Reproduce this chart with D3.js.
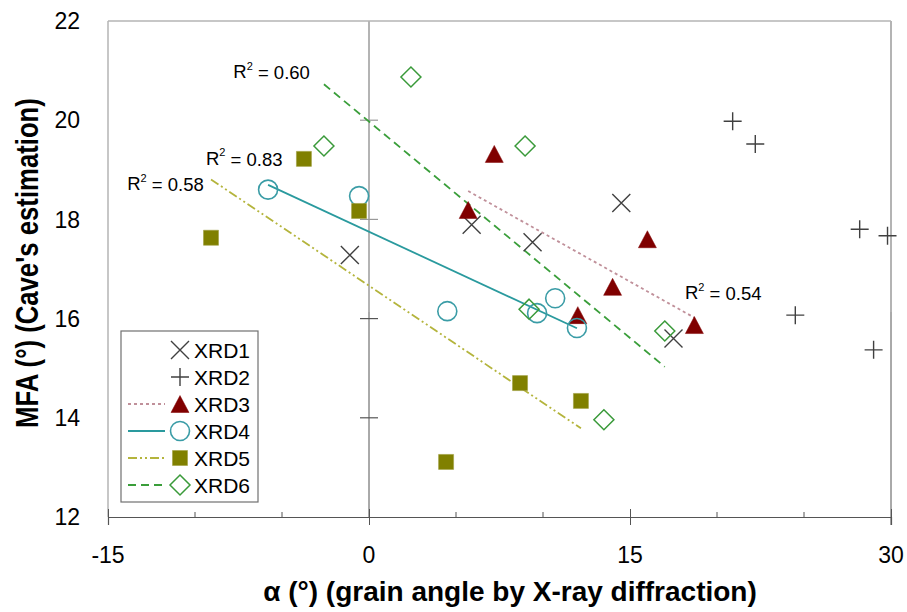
<!DOCTYPE html>
<html lang="en">
<head>
    <meta charset="UTF-8">
    <title>MFA vs grain angle</title>
    <script src="https://d3js.org/d3.v7.min.js"></script>
    <style>
        body { margin: 0; background: #fff; }
        text { font-family: "Liberation Sans", Arial, sans-serif; fill: #000; }
    </style>
</head>
<body>
    <div id="chart"></div>

    <script>
        // values
        const seriesNames = ["XRD1", "XRD2", "XRD3", "XRD4", "XRD5", "XRD6"];

        const xrd1X = [-1.1, 5.9, 9.4, 14.5, 17.5];
        const xrd1Y = [17.28, 17.89, 17.54, 18.33, 15.6];

        const xrd2X = [20.9, 22.2, 28.2, 29.8, 24.5, 29.0];
        const xrd2Y = [19.98, 19.52, 17.8, 17.67, 16.07, 15.37];

        const xrd3X = [7.2, 5.7, 16.0, 14.0, 12.0, 18.7];
        const xrd3Y = [19.32, 18.19, 17.6, 16.64, 16.07, 15.87];

        const xrd4X = [-5.8, -0.57, 4.5, 9.66, 10.7, 11.95];
        const xrd4Y = [18.6, 18.47, 16.15, 16.11, 16.41, 15.81];

        const xrd5X = [-9.08, -3.74, -0.57, 8.68, 12.18, 4.43];
        const xrd5Y = [17.63, 19.22, 18.17, 14.70, 14.34, 13.11];

        const xrd6X = [2.41, -2.59, 8.97, 9.2, 17.0, 13.5];
        const xrd6Y = [20.87, 19.48, 19.48, 16.19, 15.75, 13.96];

        const xTicks = [-15, 0, 15, 30];
        const xMinorTicks = [-10, -5, 5, 10, 20, 25];
        const yTicks = [12, 14, 16, 18, 20, 22];

        // R² labels as printed, with the text anchor in data units
        const r2Text = ["0.60", "0.83", "0.58", "0.54"];
        const r2AtX = [-7.8, -9.37, -13.9, 18.16];
        const r2AtY = [20.99, 19.24, 18.73, 16.52];

        const W = 907, H = 612;
        const pLeft = 108, pTop = 21, pRight = 891, pBottom = 517;

        const x = d3.scaleLinear().domain([-15, 30]).range([pLeft, pRight]);
        const y = d3.scaleLinear().domain([12, 22]).range([pBottom, pTop]);

        const svg = d3.select("#chart").append("svg")
            .attr("width", W).attr("height", H);

        const light = "#b4b4b4", dark = "#555";
        const splitY = 312; // lines are pale above this, darker below (as in the scan)

        // frame
        svg.append("line").attr("x1", pLeft).attr("x2", pRight).attr("y1", pTop).attr("y2", pTop)
            .attr("stroke", light).attr("stroke-width", 1.5);
        svg.append("line").attr("x1", pLeft).attr("x2", pLeft).attr("y1", pTop).attr("y2", pBottom)
            .attr("stroke", light).attr("stroke-width", 1.5);
        svg.append("line").attr("x1", pRight).attr("x2", pRight).attr("y1", pTop).attr("y2", splitY)
            .attr("stroke", light).attr("stroke-width", 2);
        svg.append("line").attr("x1", pRight).attr("x2", pRight).attr("y1", splitY).attr("y2", pBottom + 8)
            .attr("stroke", dark).attr("stroke-width", 1);

        // vertical axis through x = 0
        svg.append("line").attr("x1", x(0)).attr("x2", x(0)).attr("y1", pTop).attr("y2", splitY)
            .attr("stroke", light).attr("stroke-width", 2);
        svg.append("line").attr("x1", x(0)).attr("x2", x(0)).attr("y1", splitY).attr("y2", pBottom)
            .attr("stroke", dark).attr("stroke-width", 1);
        svg.selectAll(".ytick").data(yTicks.filter(d => d > 12 && d < 22)).join("line")
            .attr("x1", x(0) - 9).attr("x2", x(0) + 9)
            .attr("y1", d => y(d)).attr("y2", d => y(d))
            .attr("stroke", d => y(d) < splitY ? "#999" : dark).attr("stroke-width", 1.2);

        // bottom axis
        const xAxis = d3.axisBottom(x).tickValues(xTicks).tickSize(8).tickFormat("");
        const gx = svg.append("g").attr("transform", `translate(0,${pBottom})`).call(xAxis);
        gx.select(".domain").attr("stroke", dark).attr("stroke-width", 1.2);
        gx.selectAll(".tick line").attr("stroke", dark).attr("y1", -8);
        svg.selectAll(".xminor").data(xMinorTicks).join("line")
            .attr("x1", d => x(d)).attr("x2", d => x(d))
            .attr("y1", pBottom - 5).attr("y2", pBottom)
            .attr("stroke", dark).attr("stroke-width", 1);

        // tick labels
        svg.selectAll(".xlab").data(xTicks).join("text")
            .attr("x", d => x(d)).attr("y", 563)
            .attr("text-anchor", "middle").attr("font-size", 23)
            .text(d => d);
        svg.selectAll(".ylab").data(yTicks).join("text")
            .attr("x", 80).attr("y", d => y(d)).attr("dy", "0.36em")
            .attr("text-anchor", "end").attr("font-size", 23)
            .text(d => d);

        // axis titles
        svg.append("text").attr("x", 510).attr("y", 601)
            .attr("text-anchor", "middle").attr("font-size", 28).attr("font-weight", "bold")
            .text("\u03b1 (\u00b0) (grain angle by X-ray diffraction)");
        svg.append("text").attr("transform", "translate(38,263) rotate(-90) scale(0.83,1)")
            .attr("text-anchor", "middle").attr("font-size", 31).attr("font-weight", "bold")
            .text("MFA (\u00b0) (Cave's estimation)");

        // marker shapes
        const shapes = {
            x: "M-9,-9L9,9M-9,9L9,-9",
            plus: "M-9,0L9,0M0,-9L0,9",
            tri: "M0,-8.5L9,8.5L-9,8.5Z",
            circle: d3.symbol(d3.symbolCircle, Math.PI * 9.5 * 9.5)(),
            square: "M-7.5,-7.5H7.5V7.5H-7.5Z",
            diamond: "M0,-10L10,0L0,10L-10,0Z"
        };

        const styles = [
            { shape: "x", fill: "none", stroke: "#404040", sw: 1.4 },
            { shape: "plus", fill: "none", stroke: "#404040", sw: 1.4 },
            { shape: "tri", fill: "#800000", stroke: "#800000", sw: 0.5,
              line: "#c0909a", dash: "3,3" },
            { shape: "circle", fill: "none", stroke: "#3a9ca6", sw: 1.6,
              line: "#2a9a9e", dash: null },
            { shape: "square", fill: "#808000", stroke: "#a0a040", sw: 0.6,
              line: "#b4b43c", dash: "9,3,2,3,2,3" },
            { shape: "diamond", fill: "none", stroke: "#3a9a3a", sw: 1.5,
              line: "#3a9e3a", dash: "8,5" }
        ];

        const allX = [xrd1X, xrd2X, xrd3X, xrd4X, xrd5X, xrd6X];
        const allY = [xrd1Y, xrd2Y, xrd3Y, xrd4Y, xrd5Y, xrd6Y];

        // least-squares trend lines for XRD3..XRD6
        function fit(xs, ys) {
            const mx = d3.mean(xs), my = d3.mean(ys);
            let sxy = 0, sxx = 0;
            xs.forEach((v, i) => { sxy += (v - mx) * (ys[i] - my); sxx += (v - mx) * (v - mx); });
            const b = sxy / sxx;
            return v => my + b * (v - mx);
        }

        for (let s = 2; s < 6; s++) {
            const f = fit(allX[s], allY[s]);
            const [x0, x1] = d3.extent(allX[s]);
            svg.append("line")
                .attr("x1", x(x0)).attr("y1", y(f(x0)))
                .attr("x2", x(x1)).attr("y2", y(f(x1)))
                .attr("stroke", styles[s].line).attr("stroke-width", 1.8)
                .attr("stroke-dasharray", styles[s].dash);
        }

        allX.forEach((xs, s) => {
            const st = styles[s];
            svg.selectAll(".m" + s).data(xs.map((v, i) => [v, allY[s][i]])).join("path")
                .attr("transform", d => `translate(${x(d[0])},${y(d[1])})`)
                .attr("d", shapes[st.shape])
                .attr("fill", st.fill).attr("stroke", st.stroke).attr("stroke-width", st.sw);
        });

        // R² annotations
        r2Text.forEach((t, i) => {
            const txt = svg.append("text")
                .attr("x", x(r2AtX[i])).attr("y", y(r2AtY[i])).attr("dy", "0.36em")
                .attr("font-size", 18.5);
            txt.append("tspan").text("R");
            txt.append("tspan").attr("font-size", 11).attr("dy", "-0.75em").text("2");
            txt.append("tspan").attr("dy", "0.5em").text(" = " + t);
        });

        // legend
        const lg = svg.append("g");
        lg.append("rect").attr("x", 121).attr("y", 331).attr("width", 137).attr("height", 171)
            .attr("fill", "#fff").attr("stroke", "#707070").attr("stroke-width", 1.2);
        seriesNames.forEach((name, i) => {
            const st = styles[i];
            const cy = 350 + i * 27;
            if (st.line) {
                lg.append("line").attr("x1", 128).attr("x2", 165).attr("y1", cy).attr("y2", cy)
                    .attr("stroke", st.line).attr("stroke-width", 1.8)
                    .attr("stroke-dasharray", st.dash);
            }
            lg.append("path").attr("transform", `translate(180,${cy})`)
                .attr("d", shapes[st.shape])
                .attr("fill", st.fill).attr("stroke", st.stroke).attr("stroke-width", st.sw);
            lg.append("text").attr("x", 194).attr("y", cy).attr("dy", "0.36em")
                .attr("font-size", 21).text(name);
        });
    </script>
</body>
</html>
